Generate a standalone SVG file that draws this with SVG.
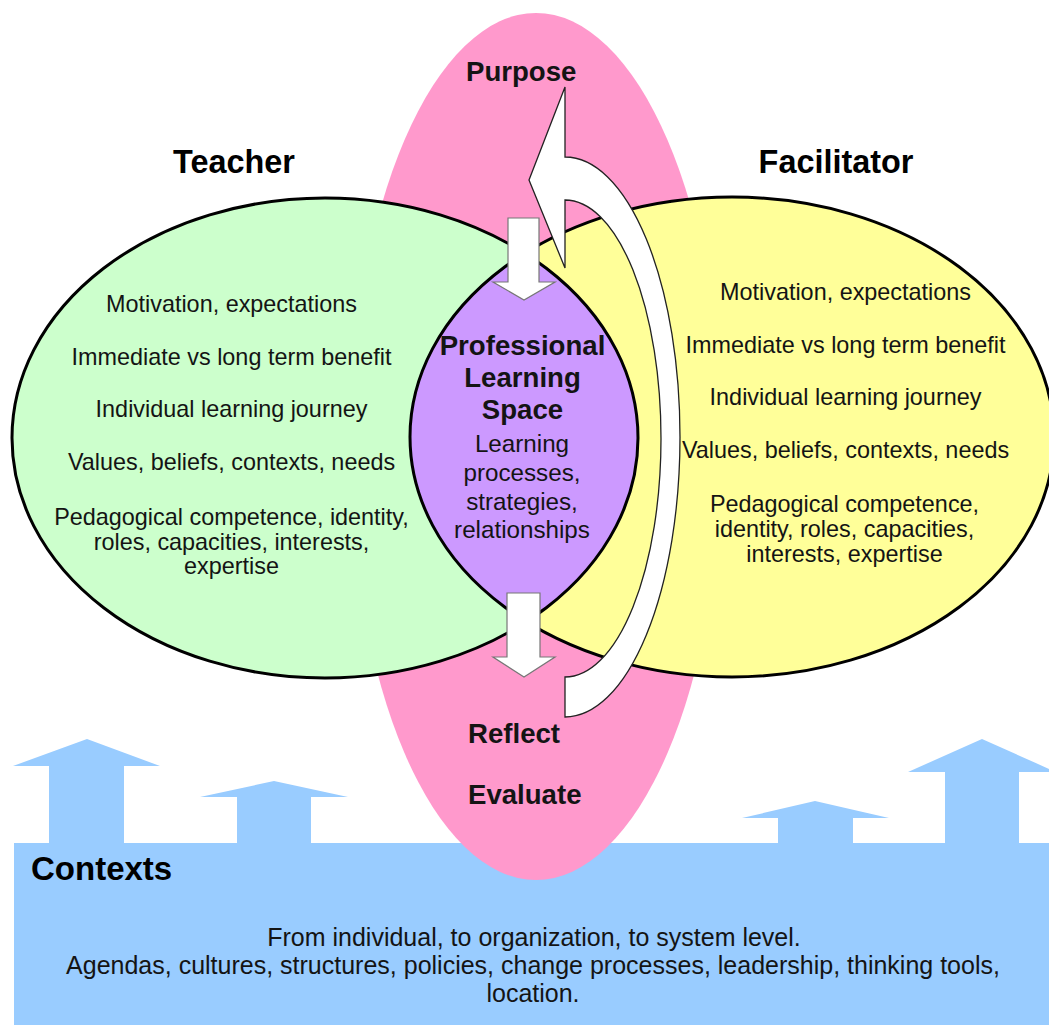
<svg xmlns="http://www.w3.org/2000/svg" width="1049" height="1025" viewBox="0 0 1049 1025">
<style>
text{font-family:"Liberation Sans",Arial,sans-serif;fill:#141414}
.t{font-size:32.4px;font-weight:bold;text-anchor:middle;fill:#000}
.b{font-size:27.6px;font-weight:bold}
.bc{font-size:27.6px;font-weight:bold;text-anchor:middle}
.r{font-size:23.4px;text-anchor:middle}
.l{font-size:24.2px;text-anchor:middle}
.c{font-size:25px;text-anchor:middle}
.up{fill:#99ccff}
.ol{fill:none;stroke:#000;stroke-width:3}
.da{fill:#fff;stroke:#777;stroke-width:1.2}
</style>
<defs>
<clipPath id="clipG"><ellipse cx="325" cy="438" rx="313" ry="240"/></clipPath>
</defs>
<rect width="1049" height="1025" fill="#fff"/>
<g id="contexts">
<polygon class="up" points="49,843 49,766 13,766 87,739 160,766 124,766 124,843"/>
<polygon class="up" points="237,843 237,797 200,797 274,781 348,797 311,797 311,843"/>
<polygon class="up" points="778,843 778,818 742,818 815,801 889,818 853,818 853,843"/>
<polygon class="up" points="945,843 945,772 908,772 982,739 1056,772 1019,772 1019,843"/>
<rect x="14" y="843" width="1035" height="182" fill="#99ccff"/>
</g>
<g id="purpose-reflect">
<ellipse cx="536" cy="446.5" rx="186" ry="433.5" fill="#ff99cc"/>
</g>
<g id="teacher">
<ellipse cx="325" cy="438" rx="313" ry="240" fill="#ccffcc"/>
</g>
<g id="facilitator">
<ellipse cx="732" cy="437" rx="322" ry="240" fill="#ffff99"/>
</g>
<g id="lens">
<ellipse cx="732" cy="437" rx="322" ry="240" fill="#cc99ff" clip-path="url(#clipG)"/>
</g>
<g id="outlines">
<ellipse class="ol" cx="325" cy="438" rx="313" ry="240"/>
<ellipse class="ol" cx="732" cy="437" rx="322" ry="240"/>
</g>
<g id="connectors">
<polygon class="da" points="508,218 539,218 539,282 555,282 524,300 493,282 508,282"/>
<polygon class="da" points="507,593 540,593 540,657 555,657 524,677 493,657 507,657"/>
<path d="M565,87 L529,180 L565,268 L565,200 A96 238.5 0 0 1 565,677 L565,717 A115 280 0 0 0 565,157 Z" fill="#fff" stroke="#222" stroke-width="1.3" stroke-linejoin="miter"/>
</g>
<g id="labels">
<text class="b" x="466" y="81">Purpose</text>
<text class="b" x="468" y="743">Reflect</text>
<text class="b" x="468" y="804">Evaluate</text>
<text class="t" x="234" y="173">Teacher</text>
<text class="t" x="836" y="173">Facilitator</text>
<text class="r" x="231.5" y="312">Motivation, expectations</text>
<text class="r" x="231.5" y="365">Immediate vs long term benefit</text>
<text class="r" x="231.5" y="417">Individual learning journey</text>
<text class="r" x="231.5" y="469.5">Values, beliefs, contexts, needs</text>
<text class="r" x="231.5" y="525">Pedagogical competence, identity,</text>
<text class="r" x="231.5" y="549.5">roles, capacities, interests,</text>
<text class="r" x="231.5" y="574">expertise</text>
<text class="r" x="845.5" y="299.5">Motivation, expectations</text>
<text class="r" x="845.5" y="352.5">Immediate vs long term benefit</text>
<text class="r" x="845.5" y="405">Individual learning journey</text>
<text class="r" x="845.5" y="457.5">Values, beliefs, contexts, needs</text>
<text class="r" x="844.5" y="511.5">Pedagogical competence,</text>
<text class="r" x="844.5" y="536.5">identity, roles, capacities,</text>
<text class="r" x="844.5" y="562">interests, expertise</text>
<text class="bc" x="522.5" y="355">Professional</text>
<text class="bc" x="522.5" y="387">Learning</text>
<text class="bc" x="522.5" y="418.5">Space</text>
<text class="l" x="522" y="452">Learning</text>
<text class="l" x="522" y="481">processes,</text>
<text class="l" x="522" y="510">strategies,</text>
<text class="l" x="522" y="538">relationships</text>
<text x="31" y="880" style="font-size:33px;font-weight:bold;fill:#000">Contexts</text>
<text class="c" x="534" y="946">From individual, to organization, to system level.</text>
<text class="c" x="533" y="973.5">Agendas, cultures, structures, policies, change processes, leadership, thinking tools,</text>
<text class="c" x="533" y="1001.5">location.</text>
</g>
</svg>
